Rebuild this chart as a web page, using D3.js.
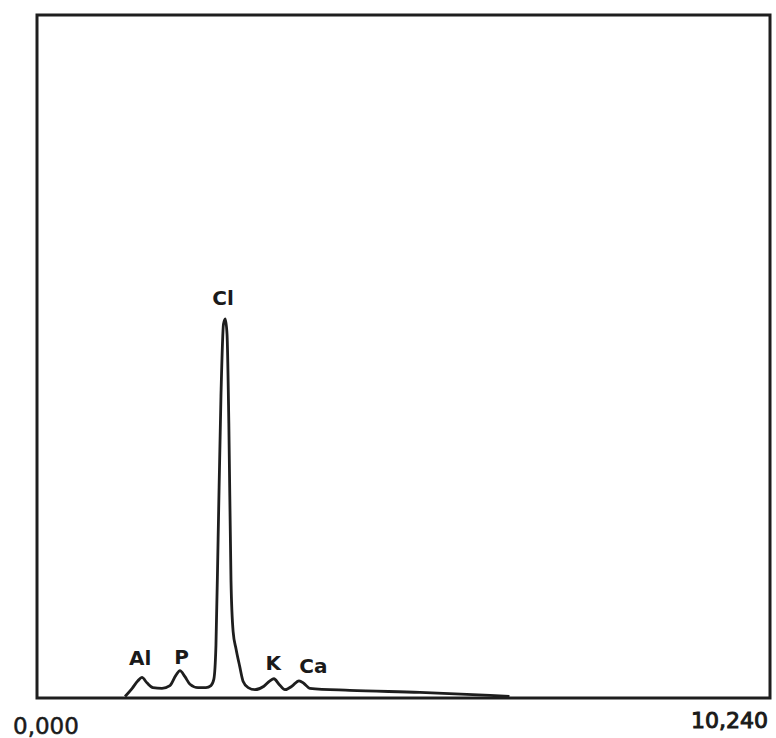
<!DOCTYPE html>
<html>
<head>
<meta charset="utf-8">
<script src="https://cdn.jsdelivr.net/npm/d3@7"></script>
<style>
  body { margin: 0; background: #fff; }
  svg text { font-family: "DejaVu Sans", sans-serif; fill: #1a1a1a; }
</style>
</head>
<body>
<div id="spectrum"></div>
<script>
// energy axis (keV) and counts
var energy = [1.23, 1.33, 1.41, 1.466, 1.536, 1.62, 1.746, 1.857, 1.94, 1.997, 2.067, 2.137, 2.25,
              2.36, 2.43, 2.47, 2.50, 2.53, 2.57, 2.605, 2.63, 2.655, 2.68, 2.71, 2.74, 2.78, 2.83, 2.88, 2.95,
              3.045, 3.17, 3.254, 3.31, 3.38, 3.464, 3.56, 3.66, 3.73, 3.81, 4.37, 5.35, 6.33, 6.6];
var counts = [0, 12, 23, 28, 20, 13, 12, 16, 31, 38, 29, 18, 13,
              13, 16, 25, 75, 230, 440, 545, 553, 530, 400, 170, 95, 70, 45, 22, 13,
              10, 15, 23, 26, 18, 10, 15, 23, 19, 12, 9, 6, 1.5, 0];

var tickValues = [0, 10.24];
var tickLabels = ["0,000", "10,240"];

var peakNames = ["Al", "P", "Cl", "K", "Ca"];
var peakEnergy = [1.44, 2.02, 2.6, 3.3, 3.86];
var peakCounts = [48, 50, 575, 41, 36];

var width = 776, height = 738;
var svg = d3.select("#spectrum").append("svg")
    .attr("width", width)
    .attr("height", height);

var x = d3.scaleLinear().domain([0, 10.24]).range([37, 770]);
var y = d3.scaleLinear().domain([0, 1000]).range([698, 15]);

// frame
svg.append("rect")
    .attr("x", x(0)).attr("y", y(1000))
    .attr("width", x(10.24) - x(0))
    .attr("height", y(0) - y(1000))
    .attr("fill", "none")
    .attr("stroke", "#1e1e1e")
    .attr("stroke-width", 3);

// spectrum trace
var pts = energy.map(function(e, i) { return [e, counts[i]]; });
var line = d3.line()
    .x(function(d) { return x(d[0]); })
    .y(function(d) { return y(d[1]) - 1.5; })
    .curve(d3.curveMonotoneX);

svg.append("path")
    .datum(pts)
    .attr("d", line)
    .attr("fill", "none")
    .attr("stroke", "#1e1e1e")
    .attr("stroke-width", 2.8)
    .attr("stroke-linejoin", "round");

// element labels
svg.selectAll(".peak")
    .data(peakNames)
    .enter().append("text")
    .attr("class", "peak")
    .attr("x", function(d, i) { return x(peakEnergy[i]); })
    .attr("y", function(d, i) { return y(peakCounts[i]); })
    .attr("text-anchor", "middle")
    .style("font-size", "20px")
    .style("font-weight", "bold")
    .text(function(d) { return d; });

// axis end labels
svg.selectAll(".tick-label")
    .data(tickValues)
    .enter().append("text")
    .attr("class", "tick-label")
    .attr("x", function(d, i) { return i === 0 ? x(d) - 24 : x(d) - 2; })
    .attr("y", function(d, i) { return i === 0 ? 734 : 728; })
    .attr("text-anchor", function(d, i) { return i === 0 ? "start" : "end"; })
    .style("font-size", function(d, i) { return i === 0 ? "23px" : "22px"; })
    .style("stroke", "#1a1a1a")
    .style("stroke-width", function(d, i) { return i === 0 ? 0.5 : 1; })
    .text(function(d, i) { return tickLabels[i]; });
</script>
</body>
</html>
